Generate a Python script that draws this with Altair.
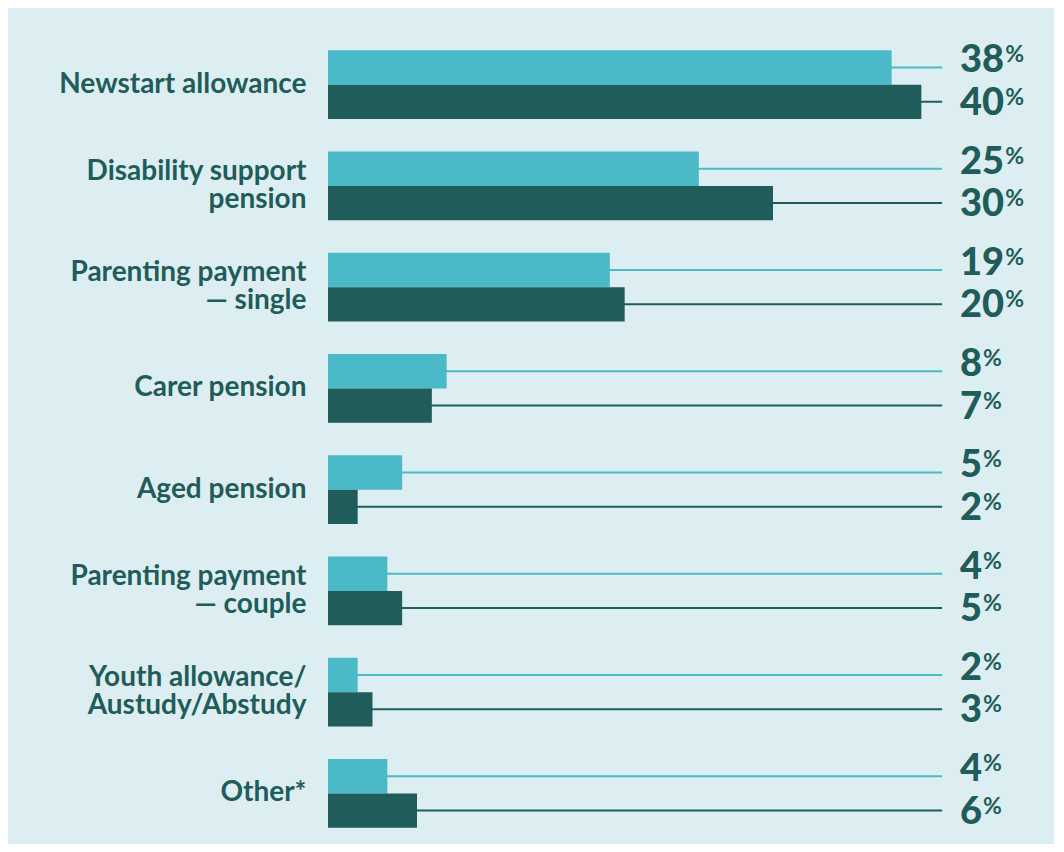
import altair as alt
import pandas as pd

categories = [
    "Newstart allowance",
    "Disability support|pension",
    "Parenting payment|— single",
    "Carer pension",
    "Aged pension",
    "Parenting payment|— couple",
    "Youth allowance/|Austudy/Abstudy",
    "Other*",
]
series = ["light", "dark"]
values_light = [38, 25, 19, 8, 5, 4, 2, 4]
values_dark = [40, 30, 20, 7, 2, 5, 3, 6]

rows = []
for i, c in enumerate(categories):
    rows.append({"cat": c, "series": "light", "value": values_light[i]})
    rows.append({"cat": c, "series": "dark", "value": values_dark[i]})
df = pd.DataFrame(rows)

LIGHT = "#4ABAC8"
DARK = "#1F5C5A"
BG = "#DDEEF3"
FONT = "Lato"

y_enc = alt.Y(
    "cat:N",
    sort=categories,
    scale=alt.Scale(paddingInner=0.32, paddingOuter=0.16),
    axis=alt.Axis(
        title=None,
        domain=False,
        ticks=False,
        labelExpr="split(datum.label, '|')",
        labelFont=FONT,
        labelFontWeight="bold",
        labelFontSize=28,
        labelColor=DARK,
        labelPadding=22,
        labelLineHeight=28,
        labelOffset={"condition": {"test": "indexof(datum.value, '|') >= 0", "value": -14}, "value": 0},
        labelLimit=400,
    ),
)
yoff = alt.YOffset("series:N", sort=series, scale=alt.Scale(paddingInner=0, paddingOuter=0))
x_scale = alt.Scale(domain=[0, 48], nice=False, zero=True)
color_enc = alt.Color("series:N", scale=alt.Scale(domain=series, range=[LIGHT, DARK]), legend=None)

base = alt.Chart(df).transform_calculate(
    x0="0",
    xend="41.4",
    xlab="42.6",
    px="42.6 + length(toString(datum.value)) * 1.5 + 0.05",
    pct="'%'",
)

rules = base.mark_rule(strokeWidth=2).encode(
    y=y_enc,
    yOffset=yoff,
    x=alt.X("x0:Q", scale=x_scale, axis=None),
    x2="xend:Q",
    color=color_enc,
)

bars = base.mark_bar().encode(
    y=y_enc,
    yOffset=yoff,
    x=alt.X("value:Q", scale=x_scale, axis=None),
    color=color_enc,
)

layers = [rules, bars]
for s, shift in zip(series, [-6, 2]):
    sub = base.transform_filter(alt.datum.series == s)
    nums = sub.mark_text(
        align="left", baseline="middle", font=FONT, fontWeight=900, fontSize=38,
        color=DARK, dy=shift,
    ).encode(
        y=y_enc,
        yOffset=yoff,
        x=alt.X("xlab:Q", scale=x_scale, axis=None),
        text=alt.Text("value:Q"),
    )
    pcts = sub.mark_text(
        align="left", baseline="middle", font=FONT, fontWeight="bold", fontSize=23,
        color=DARK, dy=shift - 6,
    ).encode(
        y=y_enc,
        yOffset=yoff,
        x=alt.X("px:Q", scale=x_scale, axis=None),
        text="pct:N",
    )
    layers += [nums, pcts]

chart = (
    alt.layer(*layers)
    .properties(
        width=712,
        height=810,
        background=BG,
        padding={"left": 320, "top": 26, "right": 14, "bottom": 0},
        autosize=alt.AutoSizeParams(type="none"),
    )
    .configure_view(stroke=None)
)

chart.save("out.html", embed_options={"renderer": "svg", "actions": False})
